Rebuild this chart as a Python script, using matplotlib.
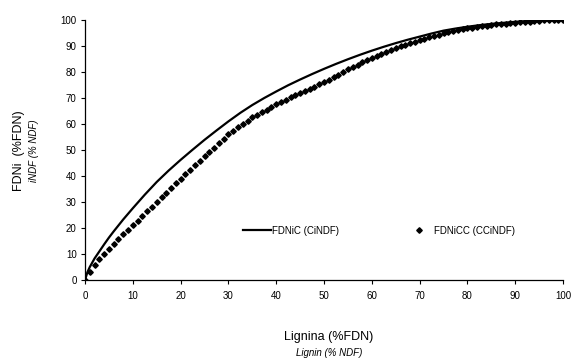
import matplotlib
matplotlib.use('Agg')
import matplotlib.pyplot as plt
from matplotlib import rcParams

rcParams.update({
    'font.family': ['Liberation Sans', 'DejaVu Sans'],
    'font.size': 7,
    'axes.linewidth': 0.9,
    'xtick.direction': 'out',
    'ytick.direction': 'out',
    'xtick.major.size': 3,
    'ytick.major.size': 3,
    'xtick.major.width': 0.8,
    'ytick.major.width': 0.8,
})

# ── Data ─────────────────────────────────────────────────────────────────────
x_solid = [0, 0.5, 1, 2, 3, 4, 5, 6, 8, 10, 12.5, 15, 17.5, 20, 22.5, 25,
           27.5, 30, 32.5, 35, 37.5, 40, 42.5, 45, 47.5, 50, 52.5, 55, 57.5,
           60, 62.5, 65, 67.5, 70, 72.5, 75, 77.5, 80, 82.5, 85, 87.5, 90,
           92.5, 95, 97.5, 100]
y_solid = [0, 3.0, 5.0, 8.3, 11.0, 13.7, 16.3, 18.7, 23.3, 27.6, 32.8, 37.7,
           42.1, 46.2, 50.1, 53.9, 57.5, 61.0, 64.3, 67.3, 70.0, 72.5, 74.9,
           77.1, 79.2, 81.2, 83.1, 84.9, 86.6, 88.2, 89.7, 91.1, 92.4, 93.6,
           94.8, 95.9, 96.7, 97.4, 98.0, 98.5, 98.9, 99.3, 99.6, 99.8, 99.9,
           100]

x_dot = list(range(0, 101))
y_dot = [0, 3.2, 5.8, 8.0, 10.0, 12.0, 13.9, 15.7, 17.5, 19.3,
         21.0, 22.8, 24.6, 26.4, 28.2, 30.0, 31.8, 33.6, 35.4, 37.2,
         39.0, 40.7, 42.4, 44.1, 45.8, 47.5, 49.2, 50.9, 52.6, 54.3,
         56.0, 57.4, 58.8, 60.1, 61.3, 62.5, 63.5, 64.5, 65.5, 66.5,
         67.5, 68.4, 69.3, 70.2, 71.1, 72.0, 72.8, 73.6, 74.4, 75.2,
         76.0, 77.0, 78.0, 79.0, 80.0, 81.0, 81.9, 82.8, 83.7, 84.6,
         85.5, 86.2, 86.9, 87.6, 88.4, 89.2, 89.8, 90.4, 91.0, 91.6,
         92.2, 92.8, 93.3, 93.9, 94.4, 95.0, 95.4, 95.7, 96.1, 96.4,
         96.8, 97.1, 97.3, 97.6, 97.8, 98.1, 98.3, 98.5, 98.6, 98.8,
         99.0, 99.2, 99.3, 99.4, 99.6, 99.7, 99.8, 99.9, 99.9, 100,
         100]

ticks = list(range(0, 101, 10))

# ── Figure ───────────────────────────────────────────────────────────────────
fig = plt.figure(figsize=(5.71, 3.58), dpi=100, facecolor='white')
ax = fig.add_axes([0.1489, 0.2179, 0.8372, 0.7263])

ax.plot(x_solid, y_solid, color='black', linewidth=1.6,
        label='FDNiC (CiNDF)', zorder=3)
ax.plot(x_dot, y_dot, linestyle='none', marker='D', markersize=2.8,
        color='black', label='FDNiCC (CCiNDF)', zorder=2)

ax.set_xlim(0, 100)
ax.set_ylim(0, 100)
ax.set_xticks(ticks)
ax.set_yticks(ticks)
ax.spines['top'].set_visible(False)
ax.spines['right'].set_visible(False)
ax.tick_params(axis='x', pad=5)
ax.tick_params(axis='y', pad=3)

ax.legend(loc='center left', bbox_to_anchor=(0.3125, 0.19), ncol=2,
          frameon=False, handlelength=2.9, handletextpad=0.1,
          columnspacing=6.7, numpoints=1, fontsize=7)

# Axis titles (Portuguese + English italic)
fig.text(0.034, 0.58, 'FDNi  (%FDN)', rotation=90, ha='center', va='center',
         fontsize=9)
fig.text(0.060, 0.58, 'iNDF (% NDF)', rotation=90, ha='center', va='center',
         fontsize=7, style='italic')
fig.text(0.576, 0.058, 'Lignina (%FDN)', ha='center', va='center', fontsize=9)
fig.text(0.576, 0.015, 'Lignin (% NDF)', ha='center', va='center', fontsize=7,
         style='italic')

fig.savefig('out.png', dpi=100, facecolor='white')
